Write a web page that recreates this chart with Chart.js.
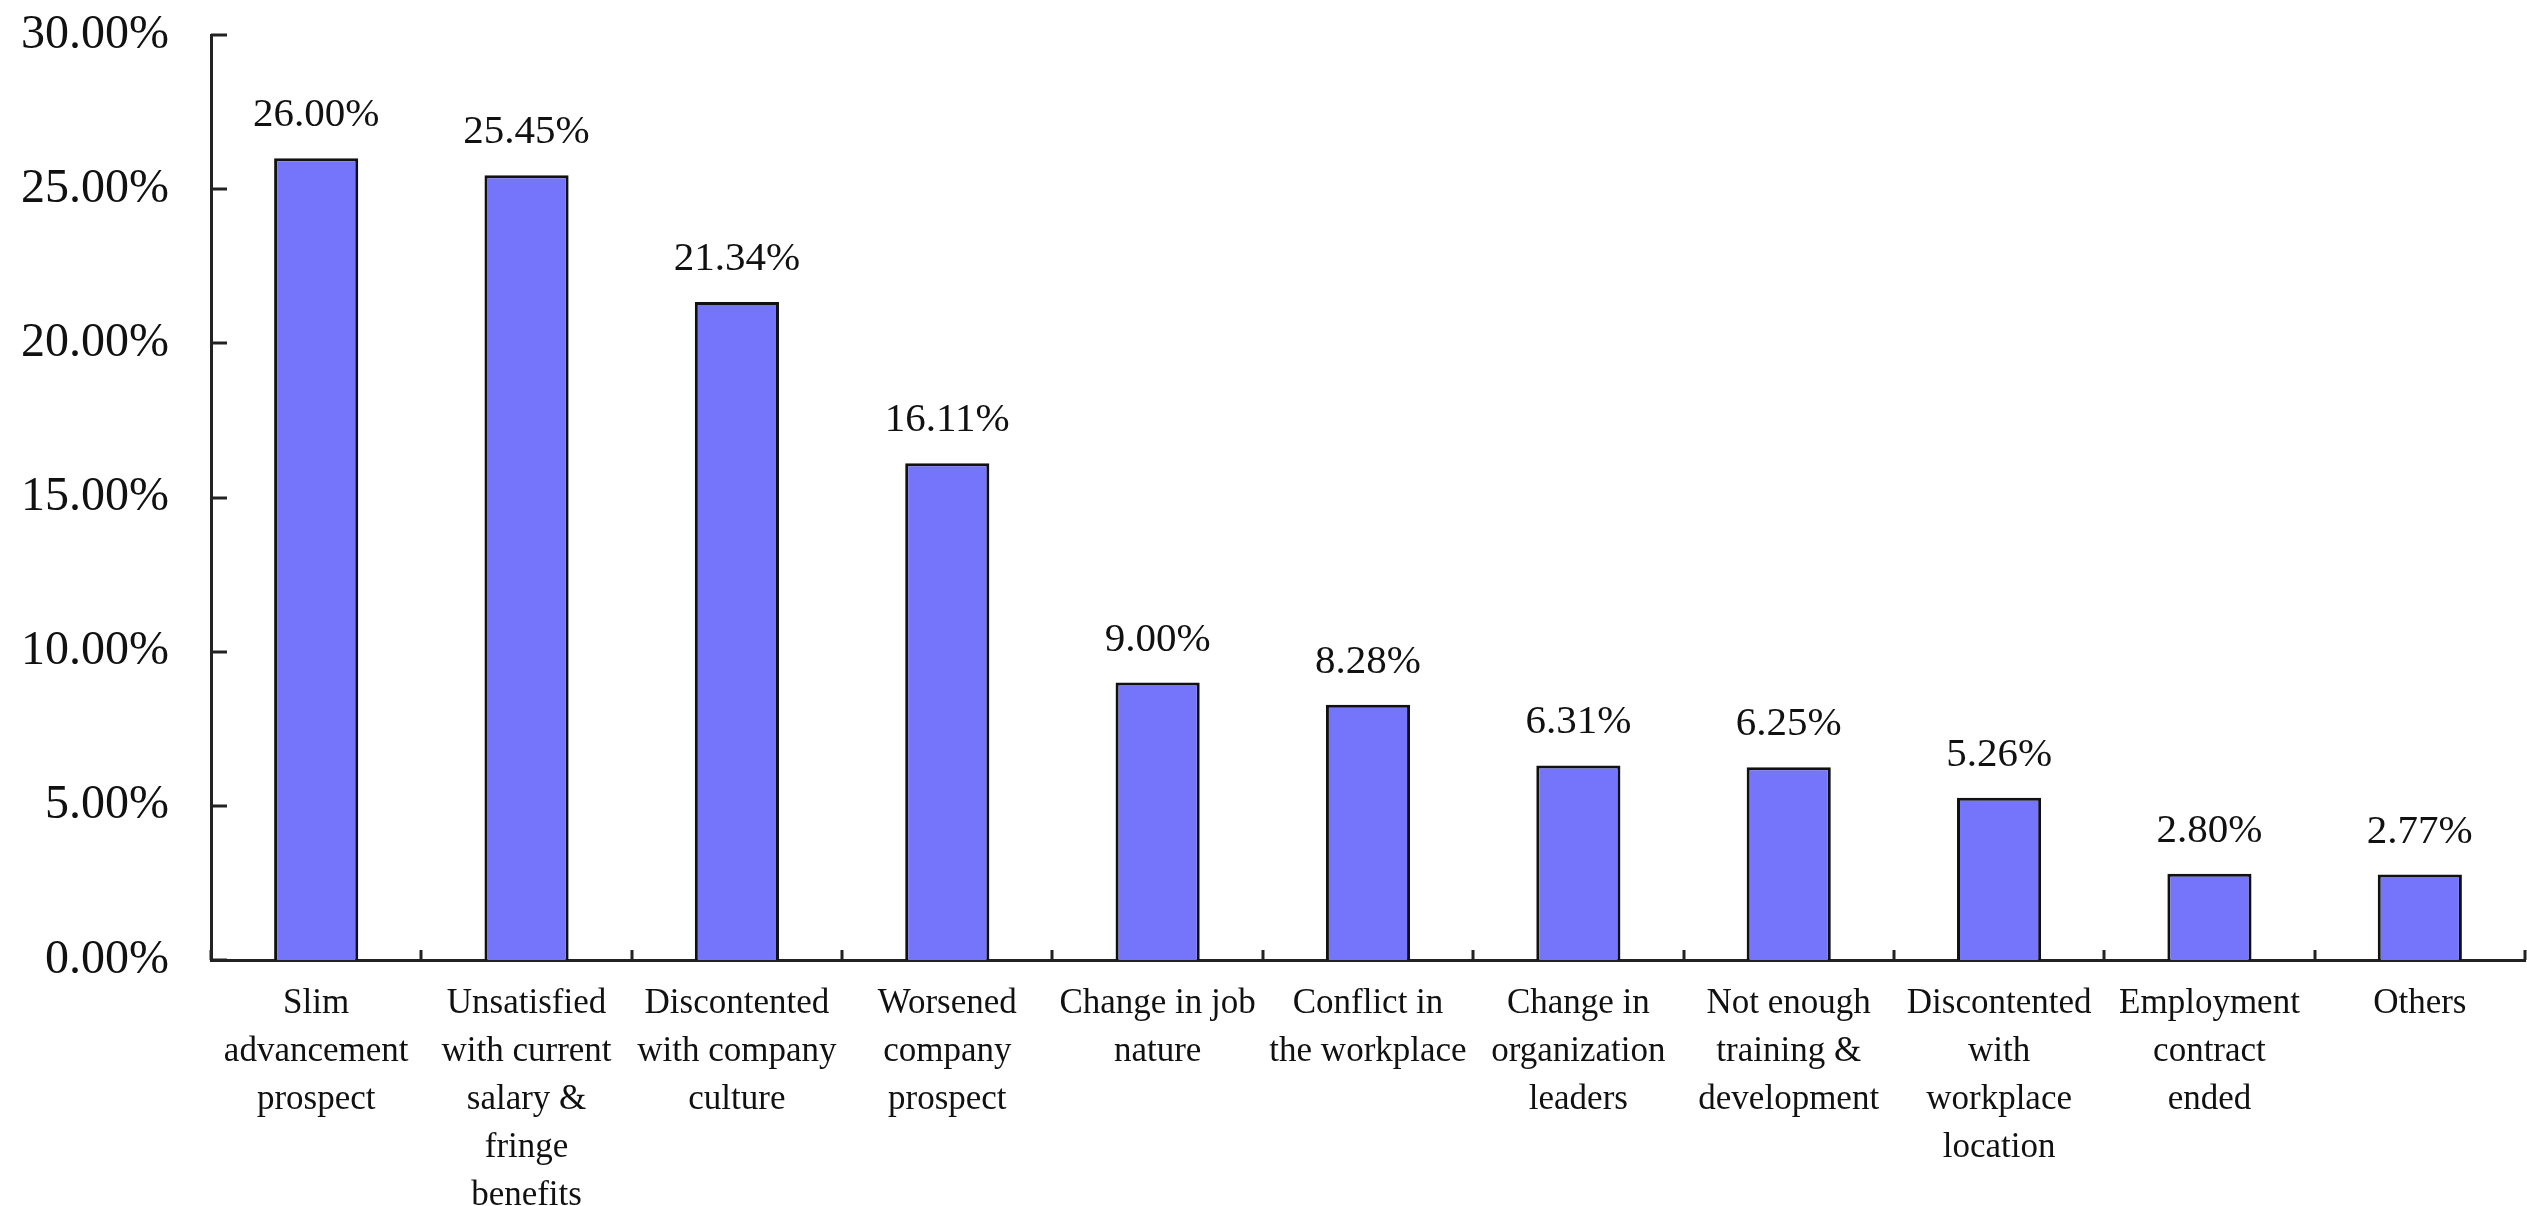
<!DOCTYPE html>
<html>
<head>
<meta charset="utf-8">
<script src="https://cdn.jsdelivr.net/npm/chart.js@4"></script>
<style>
  html, body { margin: 0; padding: 0; background: #fff; }
  #wrap { width: 2527px; height: 1206px; }
</style>
</head>
<body>
<div id="wrap"><canvas id="reasonsChart" width="2527" height="1206"></canvas></div>
<script>
const categories = [
  ["Slim", "advancement", "prospect"],
  ["Unsatisfied", "with current", "salary &", "fringe", "benefits"],
  ["Discontented", "with company", "culture"],
  ["Worsened", "company", "prospect"],
  ["Change in job", "nature"],
  ["Conflict in", "the workplace"],
  ["Change in", "organization", "leaders"],
  ["Not enough", "training &", "development"],
  ["Discontented", "with", "workplace", "location"],
  ["Employment", "contract", "ended"],
  ["Others"],
];
const shares = [26.0, 25.45, 21.34, 16.11, 9.0, 8.28, 6.31, 6.25, 5.26, 2.8, 2.77];
const yTicks = [0, 5, 10, 15, 20, 25, 30];

const FONT = "'Liberation Serif', 'DejaVu Serif', serif";
const AXIS = "#222";

// inward tick marks + value labels over each bar
const decorations = {
  id: "decorations",
  afterDatasetsDraw(chart) {
    const { ctx, chartArea, scales } = chart;
    const x = scales.x, y = scales.y;
    ctx.save();
    ctx.strokeStyle = AXIS;
    ctx.lineWidth = 3;
    yTicks.forEach((v) => {
      const py = Math.round(y.getPixelForValue(v));
      ctx.beginPath();
      ctx.moveTo(chartArea.left, py);
      ctx.lineTo(chartArea.left + 16, py);
      ctx.stroke();
    });
    for (let i = 0; i <= categories.length; i++) {
      const px = Math.round(x.getPixelForValue(i - 0.5));
      ctx.beginPath();
      ctx.moveTo(px, chartArea.bottom);
      ctx.lineTo(px, chartArea.bottom - 10);
      ctx.stroke();
    }

    ctx.fillStyle = "#111";
    ctx.font = `41px ${FONT}`;
    ctx.textAlign = "center";
    ctx.textBaseline = "alphabetic";
    chart.getDatasetMeta(0).data.forEach((bar, i) => {
      ctx.fillText(shares[i].toFixed(2) + "%", bar.x, bar.y - 32);
    });
    ctx.restore();
  },
};

new Chart(document.getElementById("reasonsChart"), {
  type: "bar",
  data: {
    labels: categories,
    datasets: [{
      data: shares,
      backgroundColor: "#7575FC",
      borderColor: "#111",
      borderWidth: 3,
      barPercentage: 0.4,
      categoryPercentage: 1,
    }],
  },
  options: {
    responsive: false,
    animation: false,
    layout: { padding: { top: 0, right: 2, left: 0, bottom: 0 } },
    plugins: { legend: { display: false }, tooltip: { enabled: false } },
    scales: {
      x: {
        grid: { display: false, drawTicks: false },
        border: { display: true, color: AXIS, width: 3 },
        ticks: {
          color: "#111",
          font: { family: FONT, size: 35, lineHeight: 1.37 },
          padding: 20,
          maxRotation: 0,
          autoSkip: false,
        },
        afterFit(scale) {
          scale.height = 246;
          scale.paddingLeft = 0;
          scale.paddingRight = 0;
        },
      },
      y: {
        min: 0,
        max: 30,
        afterBuildTicks(scale) { scale.ticks = yTicks.map((v) => ({ value: v })); },
        grid: { display: false, drawTicks: false },
        border: { display: true, color: AXIS, width: 3 },
        ticks: {
          color: "#111",
          font: { family: FONT, size: 48 },
          padding: 42,
          callback: (v) => Number(v).toFixed(2) + "%",
        },
        afterFit(scale) {
          scale.width = 211;
          scale.paddingTop = 35;
          scale.paddingBottom = 0;
        },
      },
    },
  },
  plugins: [decorations],
});
</script>
</body>
</html>
